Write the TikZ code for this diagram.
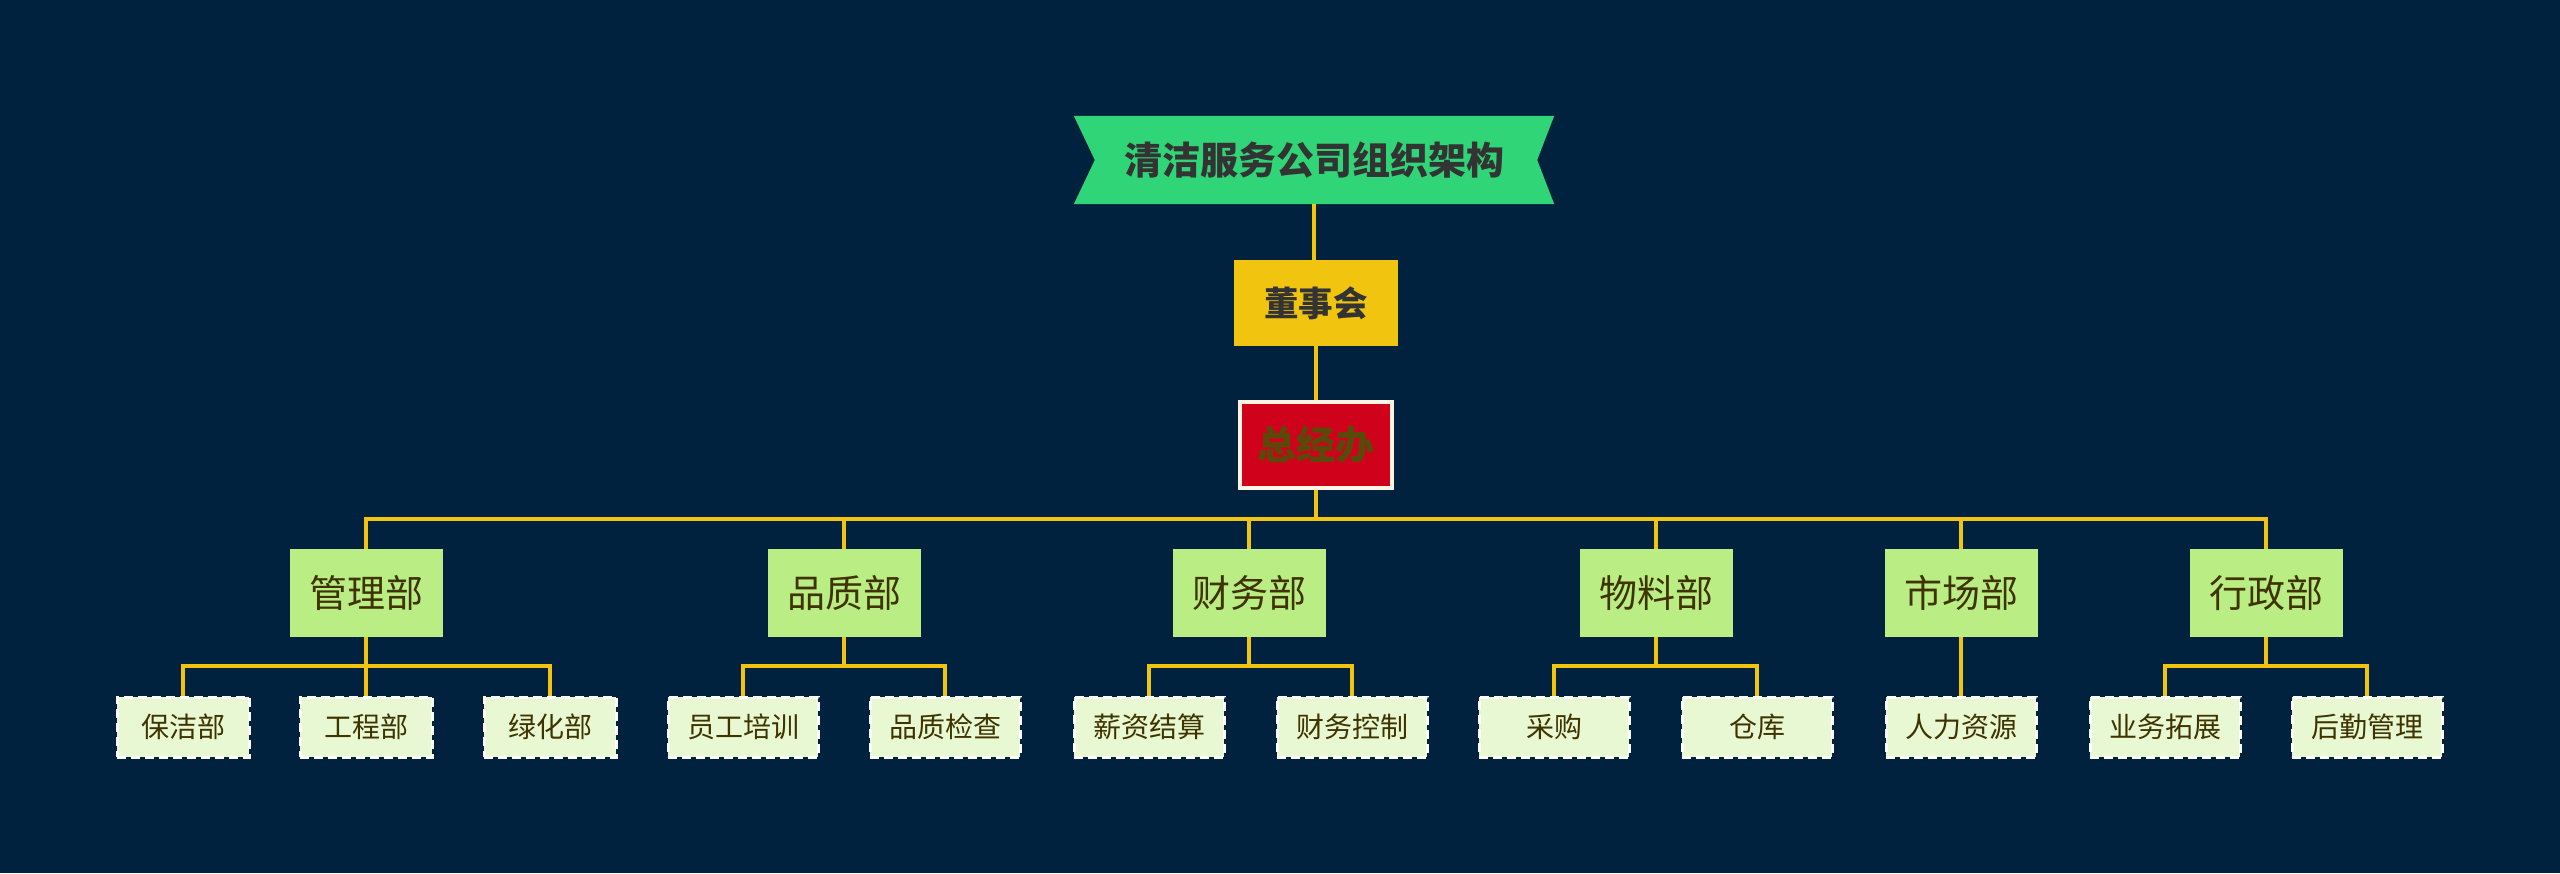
\documentclass[tikz,border=0pt]{standalone}
\usepackage{fontspec}
\newfontfamily\cjk{Noto Sans CJK SC}
\usetikzlibrary{backgrounds}
\definecolor{bgcol}{HTML}{01223F}
\definecolor{titlegreen}{HTML}{30D577}
\definecolor{boardyellow}{HTML}{F1C40F}
\definecolor{gmred}{HTML}{D0021B}
\definecolor{gmborder}{HTML}{FFF3E3}
\definecolor{gmtext}{HTML}{5A4A0A}
\definecolor{deptgreen}{HTML}{BAEE84}
\definecolor{subgreen}{HTML}{E7F8D2}
\definecolor{darktext}{HTML}{333333}
\definecolor{browntext}{HTML}{3F3300}
\definecolor{linecol}{HTML}{F1C40F}
\tikzset{
  titlebox/.style={inner sep=0pt, minimum width=480pt, minimum height=88pt, text=darktext, font=\cjk\bfseries\fontsize{38}{42}\selectfont},
  boardbox/.style={fill=boardyellow, inner sep=0pt, minimum width=164pt, minimum height=86pt, text=darktext, font=\cjk\bfseries\fontsize{34.5}{38}\selectfont},
  gmbox/.style={fill=gmred, draw=gmborder, line width=4pt, inner sep=0pt, minimum width=152pt, minimum height=86pt, text=gmtext, font=\cjk\bfseries\fontsize{39}{42}\selectfont},
  deptbox/.style={fill=deptgreen, inner sep=0pt, minimum width=153pt, minimum height=88pt, text=browntext, font=\cjk\fontsize{38}{42}\selectfont},
  subbox/.style={fill=subgreen, draw=white, line width=3pt, dash pattern=on 9pt off 5pt, inner sep=0pt, minimum width=#1, minimum height=60pt, text=browntext, font=\cjk\fontsize{28}{32}\selectfont},
  subbox/.default=150pt,
  conn/.style={draw=linecol, line width=4pt}
}
\begin{document}
\begin{tikzpicture}[x=1pt,y=-1pt]
\useasboundingbox (0,0) rectangle (2560,873);
% top
\node[titlebox] (title) at (1314,160) {清洁服务公司组织架构};
\node[boardbox] (board) at (1316,303) {董事会};
\node[gmbox] (gm) at (1316,445) {总经办};
% departments
\node[deptbox] (d1) at (366,593) {管理部};
\node[deptbox] (d2) at (844,593) {品质部};
\node[deptbox] (d3) at (1249,593) {财务部};
\node[deptbox] (d4) at (1656,593) {物料部};
\node[deptbox] (d5) at (1961,593) {市场部};
\node[deptbox] (d6) at (2266,593) {行政部};
% sub items
\node[subbox=132pt] (s1) at (183,727) {保洁部};
\node[subbox=132pt] (s2) at (366,727) {工程部};
\node[subbox=132pt] (s3) at (550,727) {绿化部};
\node[subbox] (s4) at (743,727) {员工培训};
\node[subbox] (s5) at (945,727) {品质检查};
\node[subbox] (s6) at (1149,727) {薪资结算};
\node[subbox] (s7) at (1352,727) {财务控制};
\node[subbox] (s8) at (1554,727) {采购};
\node[subbox] (s9) at (1757,727) {仓库};
\node[subbox] (s10) at (1961,727) {人力资源};
\node[subbox] (s11) at (2165,727) {业务拓展};
\node[subbox] (s12) at (2367,727) {后勤管理};
% background and ribbon
\begin{scope}[on background layer]
\fill[bgcol] (0,0) rectangle (2560,873);
\fill[titlegreen] (title.north west) -- (title.north east) -- ([xshift=-17pt]title.east) -- (title.south east) -- (title.south west) -- ([xshift=21pt]title.west) -- cycle;
% connectors
\draw[conn] (title.south) -- (title.south |- board.north);
\draw[conn] (board.south) -- (board.south |- gm.north);
\coordinate (bus) at ([yshift=-29pt]gm.south);
\foreach \d in {d1,d2,d3,d4,d5,d6}{
  \draw[conn] (gm.south) -- (bus) -| (\d.north);
}
\draw[conn] (d1.south) -- ++(0,29) -| (s1.north);
\draw[conn] (d1.south) -- (s2.north);
\draw[conn] (d1.south) -- ++(0,29) -| (s3.north);
\draw[conn] (d2.south) -- ++(0,29) -| (s4.north);
\draw[conn] (d2.south) -- ++(0,29) -| (s5.north);
\draw[conn] (d3.south) -- ++(0,29) -| (s6.north);
\draw[conn] (d3.south) -- ++(0,29) -| (s7.north);
\draw[conn] (d4.south) -- ++(0,29) -| (s8.north);
\draw[conn] (d4.south) -- ++(0,29) -| (s9.north);
\draw[conn] (d5.south) -- (s10.north);
\draw[conn] (d6.south) -- ++(0,29) -| (s11.north);
\draw[conn] (d6.south) -- ++(0,29) -| (s12.north);
\end{scope}
\end{tikzpicture}
\end{document}
